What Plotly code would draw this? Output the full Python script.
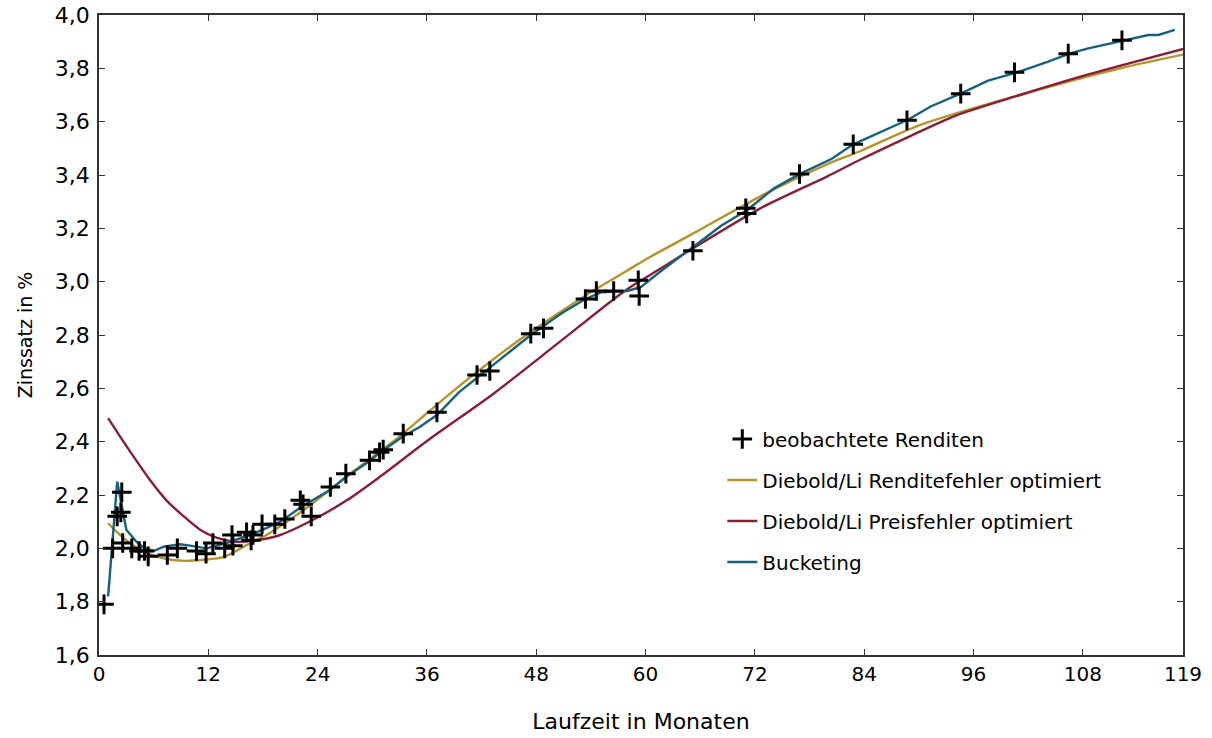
import plotly.graph_objects as go

# Observed yields (month, %)
obs_x = [0.55, 1.5, 2.0, 2.4, 2.5, 2.6, 3.6, 4.4, 5.0, 5.4, 7.5, 8.6, 10.7, 11.75, 12.5, 13.8,
         14.6, 14.7, 16.2, 16.7, 16.9, 17.9, 19.3, 20.4, 22.1, 22.4, 23.3, 25.4, 27.1, 29.7,
         30.8, 31.2, 33.4, 37.1, 41.5, 42.9, 47.4, 48.8, 53.4, 54.6, 56.5, 59.2, 59.3, 65.2,
         71.0, 71.1, 76.9, 82.8, 88.7, 94.6, 100.5, 106.4, 112.3]
obs_y = [1.79, 2.00, 2.12, 2.135, 2.21, 2.02, 2.00, 1.99, 1.99, 1.97, 1.975, 2.00, 1.99, 1.98,
         2.02, 2.00, 2.05, 2.01, 2.06, 2.03, 2.05, 2.09, 2.09, 2.11, 2.18, 2.165, 2.12, 2.23,
         2.28, 2.33, 2.36, 2.37, 2.43, 2.51, 2.65, 2.665, 2.805, 2.825, 2.935, 2.965, 2.965,
         3.005, 2.946, 3.116, 3.275, 3.256, 3.404, 3.515, 3.605, 3.705, 3.785, 3.855, 3.905]

# Diebold/Li, yield-error optimised
dly_x = [1.0, 2.0, 3.8, 5.6, 7.4, 9.4, 11.5, 13.7, 16.2, 18.4, 19.9, 23.5, 27.2, 30.9, 33.0,
         39.6, 46.9, 50.6, 54.2, 57.9, 60.1, 65.2, 72.6, 79.9, 83.6, 90.1, 101.1, 112.1, 119.8]
dly_y = [2.094, 2.06, 2.01, 1.978, 1.96, 1.953, 1.957, 1.968, 2.012, 2.05, 2.083, 2.17, 2.27,
         2.365, 2.42, 2.61, 2.80, 2.885, 2.965, 3.04, 3.085, 3.18, 3.32, 3.44, 3.49, 3.587,
         3.70, 3.80, 3.857]

# Diebold/Li, price-error optimised
dlp_x = [1.0, 2.3, 3.8, 5.6, 7.4, 9.3, 11.1, 12.9, 14.8, 16.6, 19.9, 23.5, 27.2, 30.9, 36.3,
         43.3, 50.6, 57.9, 61.7, 65.2, 72.6, 79.9, 83.6, 89.0, 94.0, 101.1, 108.6, 119.8]
dlp_y = [2.488, 2.42, 2.344, 2.256, 2.18, 2.12, 2.07, 2.04, 2.025, 2.027, 2.05, 2.107, 2.18,
         2.27, 2.41, 2.58, 2.775, 2.97, 3.05, 3.125, 3.275, 3.394, 3.458, 3.545, 3.622, 3.70,
         3.777, 3.88]

# Bucketing
buck_x = [1.0, 2.0, 3.0, 4.1, 5.0, 6.0, 7.1, 8.9, 10.0, 11.8, 14.0, 15.5, 16.6, 18.0, 19.9,
          22.4, 25.4, 27.2, 29.4, 30.9, 33.4, 35.2, 37.1, 39.5, 41.5, 43.3, 45.2, 47.4, 50.7,
          53.4, 55.1, 58.0, 59.5, 61.7, 65.4, 68.3, 71.2, 74.1, 77.0, 80.4, 82.8, 85.1, 88.8,
          91.3, 94.7, 97.6, 100.7, 104.2, 106.6, 108.6, 112.5, 115.2, 116.3, 118.1]
buck_y = [1.82, 2.25, 2.07, 2.025, 2.00, 1.99, 2.006, 2.015, 2.01, 2.00, 2.02, 2.037, 2.05,
          2.07, 2.10, 2.16, 2.22, 2.27, 2.32, 2.36, 2.42, 2.455, 2.50, 2.585, 2.64, 2.69, 2.74,
          2.80, 2.88, 2.935, 2.96, 2.965, 2.98, 3.04, 3.135, 3.21, 3.27, 3.35, 3.405, 3.46,
          3.515, 3.55, 3.607, 3.657, 3.707, 3.754, 3.784, 3.825, 3.856, 3.875, 3.904, 3.925,
          3.925, 3.944]

x_ticks = [0, 12, 24, 36, 48, 60, 72, 84, 96, 108, 119]

GOLD = "#b8922a"
RED = "#8c1e34"
BLUE = "#16627e"
FONT = "DejaVu Sans"

fig = go.Figure()
fig.add_trace(go.Scatter(x=dly_x, y=dly_y, mode="lines", name="Diebold/Li Renditefehler optimiert",
                         line=dict(color=GOLD, width=2.4, shape="spline", smoothing=0.8),
                         legendgroup="g2", legendrank=2))
fig.add_trace(go.Scatter(x=dlp_x, y=dlp_y, mode="lines", name="Diebold/Li Preisfehler optimiert",
                         line=dict(color=RED, width=2.4, shape="spline", smoothing=0.8),
                         legendgroup="g3", legendrank=3))
fig.add_trace(go.Scatter(x=buck_x, y=buck_y, mode="lines", name="Bucketing",
                         line=dict(color=BLUE, width=2.4),
                         legendgroup="g4", legendrank=4))
fig.add_trace(go.Scatter(x=obs_x, y=obs_y, mode="markers", name="beobachtete Renditen",
                         marker=dict(symbol="cross-thin", size=14, color="black",
                                     line=dict(color="black", width=3)),
                         legendgroup="g1", legendrank=1))

axis_common = dict(showline=True, linecolor="#333333", linewidth=1.5, mirror="ticks",
                   ticks="inside", ticklen=6, tickcolor="#333333", tickwidth=1.2,
                   showgrid=False, zeroline=False, automargin=False)

fig.update_layout(
    width=1212, height=738,
    margin=dict(l=99, r=29, t=15, b=83, autoexpand=False),
    plot_bgcolor="white", paper_bgcolor="white",
    separators=", ",
    font=dict(family=FONT, color="black"),
    xaxis=dict(range=[0, 119], tickvals=x_ticks, ticktext=[str(v) for v in x_ticks],
               tickfont=dict(family=FONT, size=20, color="black"),
               title=dict(text="Laufzeit in Monaten", font=dict(family=FONT, size=22), standoff=29),
               **axis_common),
    yaxis=dict(range=[1.6, 4.0], dtick=0.2, tick0=1.6, tickformat=".1f",
               tickfont=dict(family=FONT, size=22, color="black"),
               title=dict(text="Zinssatz in %", font=dict(family=FONT, size=19), standoff=17),
               ticklabelstandoff=3, **axis_common),
    legend=dict(x=0.575, y=0.368, xanchor="left", yanchor="top",
                font=dict(family=FONT, size=20, color="black"),
                bgcolor="rgba(0,0,0,0)", tracegroupgap=12, itemwidth=30),
    showlegend=True,
)

fig.write_html("out.html")
